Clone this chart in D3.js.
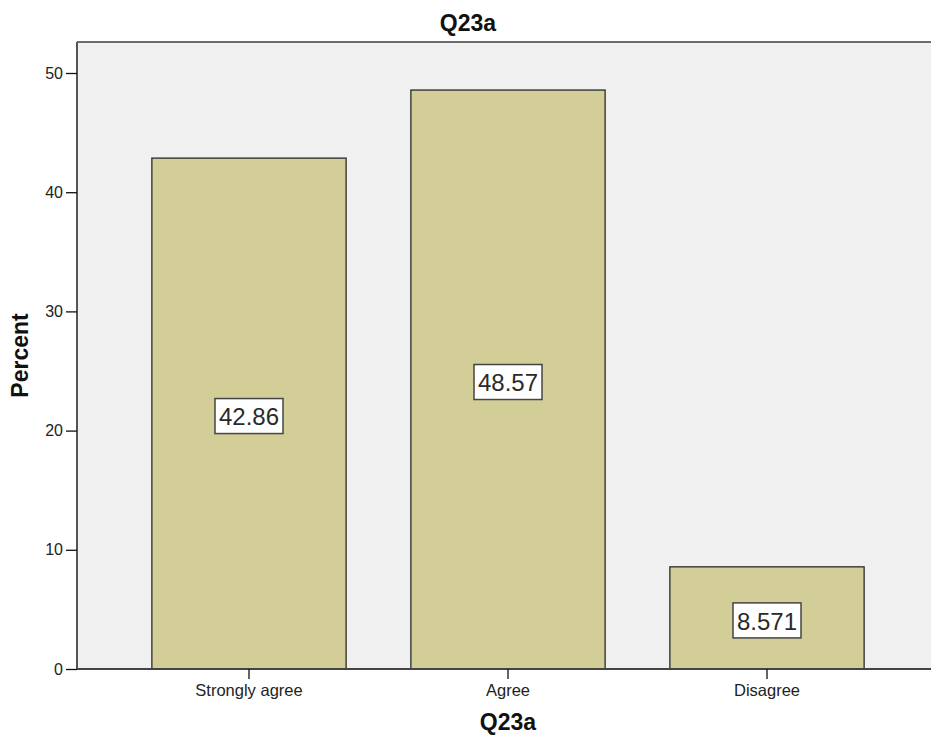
<!DOCTYPE html>
<html>
<head>
<meta charset="utf-8">
<script src="https://cdn.jsdelivr.net/npm/d3@7"></script>
<style>
  html, body { margin: 0; padding: 0; background: #fff; }
  svg { display: block; font-family: "Liberation Sans", Arial, sans-serif; }
</style>
</head>
<body>
<svg id="chart" width="931" height="738"></svg>
<script>
const categories = ["Strongly agree", "Agree", "Disagree"];
const percents = [42.86, 48.57, 8.571];
const valueLabels = ["42.86", "48.57", "8.571"];
const yTicks = [0, 10, 20, 30, 40, 50];
const chartTitle = "Q23a";
const xTitle = "Q23a";
const yTitle = "Percent";

const W = 931, H = 738;
const plot = { left: 77, top: 42, right: 931, bottom: 669 };

const svg = d3.select("#chart");

const x = d3.scaleBand()
  .domain(categories)
  .range([119.5, 896.5])
  .paddingInner(0.25)
  .paddingOuter(0.125);

const y = d3.scaleLinear().domain([0, 50]).range([plot.bottom, 73]);

// plot background
svg.append("rect")
  .attr("x", plot.left).attr("y", plot.top)
  .attr("width", plot.right - plot.left).attr("height", plot.bottom - plot.top)
  .attr("fill", "#f0f0f0");

// frame top & left
svg.append("line")
  .attr("x1", plot.left).attr("x2", plot.right)
  .attr("y1", plot.top).attr("y2", plot.top)
  .attr("stroke", "#6b6b6b").attr("stroke-width", 2);
svg.append("line")
  .attr("x1", plot.left).attr("x2", plot.left)
  .attr("y1", plot.top).attr("y2", plot.bottom)
  .attr("stroke", "#555").attr("stroke-width", 2);

// bars
const data = categories.map((c, i) => ({ c, v: percents[i], label: valueLabels[i] }));
svg.selectAll("rect.bar").data(data).enter().append("rect")
  .attr("class", "bar")
  .attr("x", d => x(d.c))
  .attr("y", d => y(d.v))
  .attr("width", x.bandwidth())
  .attr("height", d => y(0) - y(d.v))
  .attr("fill", "#d3ce97")
  .attr("stroke", "#2a2a2a")
  .attr("stroke-width", 1.3);

// bottom axis line
svg.append("line")
  .attr("x1", plot.left).attr("x2", plot.right)
  .attr("y1", plot.bottom).attr("y2", plot.bottom)
  .attr("stroke", "#444").attr("stroke-width", 2);

// y axis ticks
const yAxis = d3.axisLeft(y).tickValues(yTicks).tickSize(11).tickPadding(3).tickFormat(d3.format("d"));
const gy = svg.append("g").attr("transform", `translate(${plot.left},0)`).call(yAxis);
gy.select(".domain").remove();
gy.selectAll(".tick line").attr("stroke", "#111").attr("stroke-width", 1.3);
gy.selectAll(".tick text").attr("font-size", 16).attr("fill", "#222")
  .attr("font-family", "'Liberation Sans', Arial, sans-serif");

// x axis ticks
const xAxis = d3.axisBottom(x).tickSize(10).tickPadding(5);
const gx = svg.append("g").attr("transform", `translate(0,${plot.bottom})`).call(xAxis);
gx.select(".domain").remove();
gx.selectAll(".tick line").attr("stroke", "#111").attr("stroke-width", 1.3);
gx.selectAll(".tick text").attr("font-size", 16.5).attr("fill", "#222")
  .attr("font-family", "'Liberation Sans', Arial, sans-serif");

// value label boxes
const lg = svg.selectAll("g.vlabel").data(data).enter().append("g")
  .attr("class", "vlabel")
  .attr("transform", d => `translate(${x(d.c) + x.bandwidth() / 2},${(y(d.v) + y(0)) / 2 + 3})`);
lg.append("rect")
  .attr("x", -34).attr("y", -18).attr("width", 68).attr("height", 35)
  .attr("fill", "#fff").attr("stroke", "#444").attr("stroke-width", 1.5);
lg.append("text")
  .attr("text-anchor", "middle").attr("dy", "0.36em")
  .attr("font-size", 24).attr("fill", "#2a2a2a")
  .text(d => d.label);

// titles
svg.append("text")
  .attr("x", 468).attr("y", 31)
  .attr("text-anchor", "middle").attr("font-weight", "bold").attr("font-size", 23).attr("fill", "#111")
  .text(chartTitle);
svg.append("text")
  .attr("x", x(categories[1]) + x.bandwidth() / 2).attr("y", 730)
  .attr("text-anchor", "middle").attr("font-weight", "bold").attr("font-size", 23).attr("fill", "#111")
  .text(xTitle);
svg.append("text")
  .attr("transform", `translate(28,${(plot.top + plot.bottom) / 2}) rotate(-90)`)
  .attr("text-anchor", "middle").attr("font-weight", "bold").attr("font-size", 23).attr("fill", "#111")
  .text(yTitle);
</script>
</body>
</html>
